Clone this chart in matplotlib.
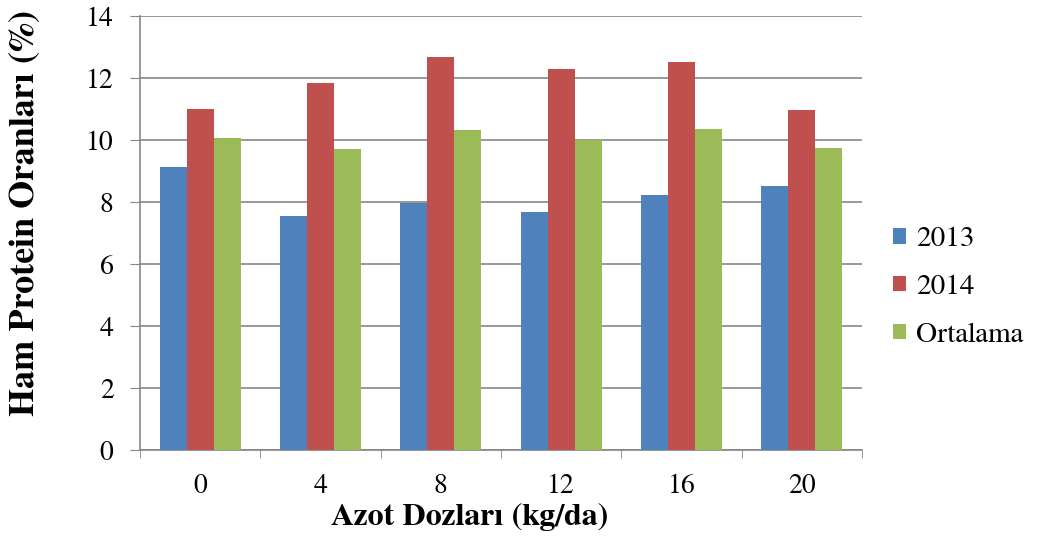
import numpy as np
import matplotlib.pyplot as plt
import matplotlib

matplotlib.rcParams['font.family'] = ['FreeSerif', 'Liberation Serif', 'DejaVu Serif']

# Azot dozlari ve ham protein oranlari
dozlar = ['0', '4', '8', '12', '16', '20']
yil_2013 = [9.13, 7.55, 7.97, 7.68, 8.23, 8.52]
yil_2014 = [11.00, 11.84, 12.68, 12.29, 12.52, 10.97]
ortalama = [10.07, 9.70, 10.32, 9.99, 10.36, 9.75]

seriler = ['2013', '2014', 'Ortalama']
renkler = ['#4F81BD', '#C0504D', '#9BBB59']

fig = plt.figure(figsize=(10.39, 5.43), dpi=100)
ax = fig.add_axes([0.1347, 0.1713, 0.6949, 0.7992])

x = np.arange(len(dozlar))
w = 0.225
for i, (vals, name, c) in enumerate(zip([yil_2013, yil_2014, ortalama], seriler, renkler)):
    ax.bar(x + (i - 1) * w, vals, width=w, color=c, label=name, zorder=3)

ax.set_xlim(-0.5, len(dozlar) - 0.5)
ax.set_ylim(0, 14)
ax.set_yticks(np.arange(0, 15, 2))
ax.set_xticks(x)
ax.set_xticklabels(dozlar)
ax.set_xticks(np.arange(-0.5, len(dozlar)), minor=True)

ax.grid(axis='y', color='#868686', linewidth=1.2, zorder=0)
for s in ['top', 'right']:
    ax.spines[s].set_visible(False)
for s in ['left', 'bottom']:
    ax.spines[s].set_color('#868686')
    ax.spines[s].set_linewidth(1.2)

ax.tick_params(axis='y', length=7, color='#868686', labelsize=20, pad=12)
ax.tick_params(axis='x', which='major', length=0, labelsize=20, pad=17)
ax.tick_params(axis='x', which='minor', length=6, color='#868686')

# eksen basliklari
fig.text(470 / 1039, 1 - 517 / 543, 'Azot Dozları (kg/da)', fontsize=23,
         fontweight='bold', ha='center', va='center')
fig.text(25 / 1039, 1 - 213 / 543, 'Ham Protein Oranları (%)', fontsize=26,
         fontweight='bold', ha='center', va='center', rotation=90)

fig.legend(loc='upper left', bbox_to_anchor=(893 / 1039, 1 - 227 / 543), frameon=False,
           fontsize=21, handlelength=0.45, handleheight=0.45, handletextpad=0.35,
           labelspacing=0.78, borderpad=0, borderaxespad=0)

fig.savefig('out.png', dpi=100)
